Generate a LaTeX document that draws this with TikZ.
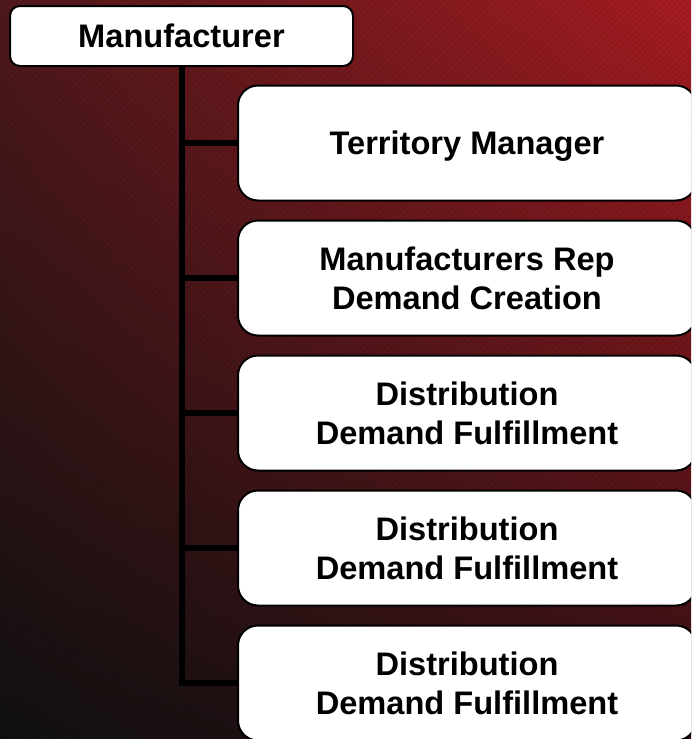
\documentclass[tikz,border=0pt]{standalone}
\usepackage{fontspec}
\setmainfont{Liberation Sans}
\usetikzlibrary{positioning,patterns,shadings}

\definecolor{bgred}{RGB}{168,28,34}
\definecolor{bgmaroon}{RGB}{80,24,27}
\definecolor{bgdark}{RGB}{16,16,16}
\definecolor{bgbrown}{RGB}{50,16,20}

\tikzset{
  orgbox/.style={draw=black, line width=1pt, fill=white, rounded corners=10pt,
    minimum width=229pt, minimum height=57.5pt, align=center, text depth=0pt,
    font=\fontsize{16.3}{19.3}\selectfont\bfseries},
  headbox/.style={orgbox, rounded corners=5pt, minimum width=171.5pt, minimum height=30pt},
  trunk/.style={draw=black, line width=3pt, line join=miter}
}

\begin{document}
\begin{tikzpicture}[x=0.5pt,y=-0.5pt,node distance=67.5pt]
  % background
  \shade[upper left=bgmaroon, upper right=bgred, lower left=bgdark, lower right=bgbrown]
    (0,0) rectangle (691,739);
  \fill[pattern=north east lines, pattern color=black, opacity=0.12] (0,0) rectangle (691,739);
  \useasboundingbox (0,0) rectangle (691,739);
  \clip (0,0) rectangle (691,739);

  \node(manu)  [headbox] at (181.5,36)    {Manufacturer};
  \node(terr)  [orgbox]  at (467,143)     {Territory Manager};
  \node(rep)   [orgbox, below of=terr]    {Manufacturers Rep\\Demand Creation};
  \node(distA) [orgbox, below of=rep]     {Distribution\\Demand Fulfillment};
  \node(distB) [orgbox, below of=distA]   {Distribution\\Demand Fulfillment};
  \node(distC) [orgbox, below of=distB]   {Distribution\\Demand Fulfillment};

  \draw[trunk] (manu.south) |- (distC.west);
  \draw[trunk] (manu.south |- terr.west)  -- (terr.west);
  \draw[trunk] (manu.south |- rep.west)   -- (rep.west);
  \draw[trunk] (manu.south |- distA.west) -- (distA.west);
  \draw[trunk] (manu.south |- distB.west) -- (distB.west);
\end{tikzpicture}
\end{document}
